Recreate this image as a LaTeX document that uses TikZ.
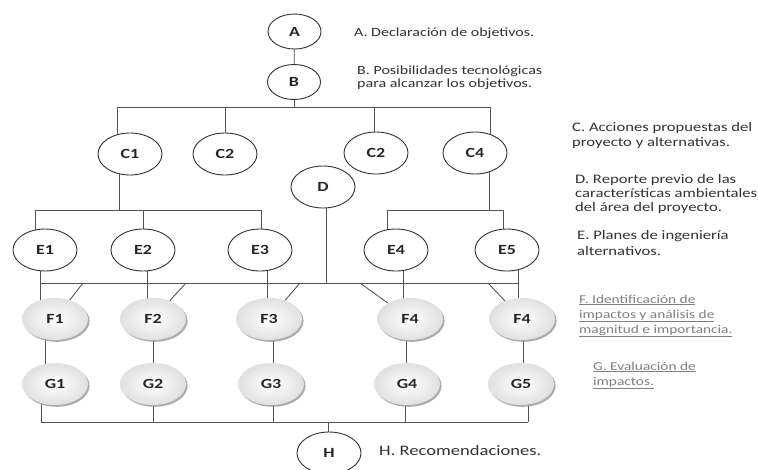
\documentclass[tikz,border=0pt]{standalone}
\usepackage{fontspec}
\setmainfont{Carlito}[FakeStretch=1.28]
\usetikzlibrary{shapes.geometric,shadows,backgrounds}
\begin{document}
\begin{tikzpicture}[x=1pt,y=-1pt,
  conn/.style={draw=black!68,line width=0.85pt},
  wnode/.style={ellipse,draw=black!80,line width=0.9pt,fill=white,
    minimum width=64pt,minimum height=42pt,inner sep=0pt,outer sep=0pt,
    font=\fontsize{14}{16}\selectfont\bfseries,text=black!85},
  smallnode/.style={wnode,minimum width=53pt,minimum height=35pt},
  gnode/.style={ellipse,minimum width=66pt,minimum height=42pt,inner sep=0pt,outer sep=0pt,
    inner color=white,outer color=black!12,
    drop shadow={shadow xshift=1.6pt,shadow yshift=-1.8pt,fill=black!38,opacity=0.85},
    font=\fontsize{14}{16}\selectfont\bfseries,text=black!85},
  lbl/.style={anchor=west,align=left,inner sep=0pt,font=\fontsize{13}{15}\selectfont,text=black!80},
  glbl/.style={lbl,font=\fontsize{12}{15}\selectfont,text=black!50}
]
\useasboundingbox (0,0) rectangle (758,469);

% ---- main nodes
\node[smallnode] (A) at (294.5,31.5) {A};
\node[smallnode] (B) at (294,82) {B};
\node[wnode] (C1) at (130,154) {C1};
\node[wnode] (C2) at (225,154) {C2};
\node[wnode] (C3) at (376,153) {C2};
\node[wnode] (C4) at (475,153) {C4};
\node[wnode] (D) at (323,187) {D};
\node[wnode] (E1) at (45,250) {E1};
\node[wnode] (E2) at (143,250) {E2};
\node[wnode] (E3) at (260,250) {E3};
\node[wnode] (E4) at (396,250) {E4};
\node[wnode] (E5) at (507,250) {E5};
\node[gnode] (F1) at (55,319) {F1};
\node[gnode] (F2) at (153,319) {F2};
\node[gnode] (F3) at (269,319) {F3};
\node[gnode] (F4) at (410,319) {F4};
\node[gnode] (F5) at (522,319) {F4};
\node[gnode] (G1) at (55,384) {G1};
\node[gnode] (G2) at (153,384) {G2};
\node[gnode] (G3) at (271,384) {G3};
\node[gnode] (G4) at (407,384) {G4};
\node[gnode] (G5) at (521,384) {G5};
\node[wnode] (H) at (329,453) {H};

% ---- labels
\node[lbl,font=\fontsize{12.5}{13.5}\selectfont] (la) at (354,33) {A. Declaración de objetivos.};
\node[lbl,font=\fontsize{12.5}{13.5}\selectfont] (lb) at (357,77.5) {B. Posibilidades tecnológicas\\para alcanzar los objetivos.};
\node[lbl] (lc) at (572,135.5) {C. Acciones propuestas del\\proyecto y alternativas.};
\node[lbl,font=\fontsize{13}{14}\selectfont] (ld) at (575,194) {D. Reporte previo de las\\características ambientales\\del área del proyecto.};
\node[lbl,font=\fontsize{13}{16}\selectfont] (le) at (577,243.5) {E. Planes de ingeniería\\alternativos.};
\node[glbl] (lf) at (579,316) {\underline{F. Identificación de}\\\underline{impactos y análisis de}\\\underline{magnitud e importancia.}};
\node[glbl] (lg) at (593,375.5) {\underline{G. Evaluación de}\\\underline{impactos.}};
\node[lbl,font=\fontsize{14.5}{16}\selectfont] (lh) at (379,451) {H. Recomendaciones.};

% ---- junction coordinates
\coordinate (cL) at (117,107); \coordinate (cR) at (490,107);
\coordinate (c3x) at (374,107);
\coordinate (eL) at (35,210); \coordinate (eR) at (261,210);
\coordinate (c1d) at (119,210); \coordinate (e2x) at (143,210);
\coordinate (rL) at (387,210); \coordinate (rR) at (503,210);
\coordinate (c4d) at (489,210);
\coordinate (fL) at (40,283); \coordinate (fR) at (518,283);
\coordinate (dB) at (326,283);
\coordinate (f2x) at (147,283); \coordinate (f3x) at (267,283); \coordinate (f4x) at (403,283);
\coordinate (d1) at (83,283); \coordinate (d2) at (186,283); \coordinate (d3) at (300,283);
\coordinate (d4) at (360,283); \coordinate (d5) at (488,283);
\coordinate (g1x) at (45,350); \coordinate (g2x) at (153,350); \coordinate (g3x) at (273,350);
\coordinate (g4x) at (406,350); \coordinate (g5x) at (523,350);
\coordinate (gL) at (41,422); \coordinate (gR) at (528,422);
\coordinate (b2) at (153,422); \coordinate (b3) at (273,422); \coordinate (b4) at (405,422);
\coordinate (hx) at (328,422);

\begin{pgfonlayer}{background}
\fill[white] (0,0) rectangle (758,469);
% top
\draw[conn] (A) -- (B);
\draw[conn] (cL) -- (cR);
\draw[conn] (B) -- (B |- cL);
\draw[conn] (cL) -- (cL |- C1.center);
\draw[conn] (C2 |- cL) -- (C2);
\draw[conn] (c3x) -- (c3x |- C3.center);
\draw[conn] (cR) -- (cR |- C4.center);
% E bars
\draw[conn] (eL) -- (eR);
\draw[conn] (c1d |- C1.center) -- (c1d);
\draw[conn] (eL) -- (eL |- E1.center);
\draw[conn] (e2x) -- (E2);
\draw[conn] (eR) -- (eR |- E3.center);
\draw[conn] (rL) -- (rR);
\draw[conn] (c4d |- C4.center) -- (c4d);
\draw[conn] (rL) -- (rL |- E4.center);
\draw[conn] (rR) -- (rR |- E5.center);
% D
\draw[conn] (dB |- D.center) -- (dB);
% F bar
\draw[conn] (fL) -- (fR);
\draw[conn] (fL |- E1.center) -- (fL |- F1.center);
\draw[conn] (f2x |- E2.center) -- (f2x |- F2.center);
\draw[conn] (f3x |- E3.center) -- (f3x |- F3.center);
\draw[conn] (f4x |- E4.center) -- (f4x |- F4.center);
\draw[conn] (fR |- E5.center) -- (fR |- F5.center);
\draw[conn] (d1) -- (F1);
\draw[conn] (d2) -- (F2);
\draw[conn] (d3) -- (F3);
\draw[conn] (d4) -- (F4);
\draw[conn] (d5) -- (F5);
% F to G
\draw[conn] (g1x |- F1.center) -- (g1x |- G1.center);
\draw[conn] (g2x |- F2.center) -- (g2x |- G2.center);
\draw[conn] (g3x |- F3.center) -- (g3x |- G3.center);
\draw[conn] (g4x |- F4.center) -- (g4x |- G4.center);
\draw[conn] (g5x |- F5.center) -- (g5x |- G5.center);
% G bar
\draw[conn] (gL) -- (gR);
\draw[conn] (gL) -- (gL |- G1.center);
\draw[conn] (b2) -- (b2 |- G2.center);
\draw[conn] (b3) -- (b3 |- G3.center);
\draw[conn] (b4) -- (b4 |- G4.center);
\draw[conn] (gR) -- (gR |- G5.center);
\draw[conn] (hx) -- (hx |- H.center);
\end{pgfonlayer}
\end{tikzpicture}
\end{document}
